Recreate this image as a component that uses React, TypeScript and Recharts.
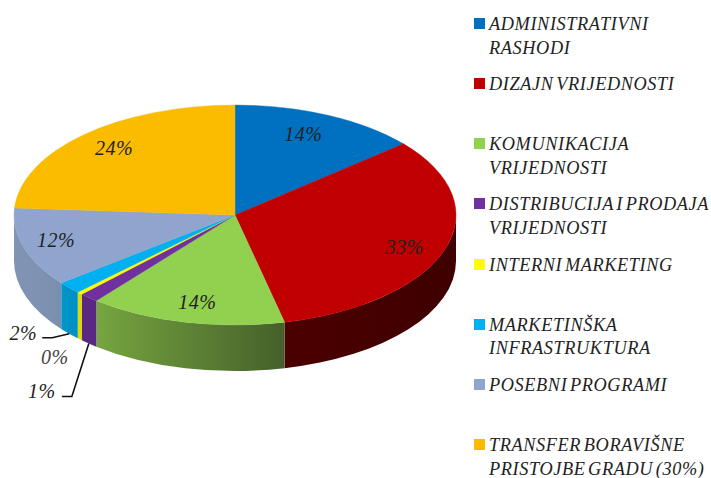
import React from 'react';
import { PieChart, Pie, Legend } from 'recharts';

const NAMES = [
  'ADMINISTRATIVNI RASHODI',
  'DIZAJN VRIJEDNOSTI',
  'KOMUNIKACIJA VRIJEDNOSTI',
  'DISTRIBUCIJA I PRODAJA VRIJEDNOSTI',
  'INTERNI MARKETING',
  'MARKETINŠKA INFRASTRUKTURA',
  'POSEBNI PROGRAMI',
  'TRANSFER BORAVIŠNE PRISTOJBE GRADU (30%)',
];
const VALUES = [13.8, 32.6, 14.4, 1.4, 0.4, 1.8, 11.6, 24];

const COLORS = ['#0070C0', '#C00000', '#92D050', '#7030A0', '#FFFF00', '#00B0F0', '#8FA5CE', '#FBBC00'];
// side wall gradient, left -> right
const WALL_LEFT = ['#005a9a', '#4c0000', '#76a540', '#5a2880', '#e0d800', '#0096cc', '#8294b4', '#c89600'];
const WALL_RIGHT = ['#005a9a', '#3e0000', '#45602a', '#5a2880', '#e0d800', '#008fc2', '#7a8fb0', '#c89600'];

const chartData = NAMES.map((name, i) => ({ name, value: VALUES[i], fill: COLORS[i] }));

const FONT = '"Liberation Serif", serif';
const SQUASH = 110 / 221; // tilt of the pie
const DEPTH = 46;

// label shift from its anchor on the pie; the small slices sit outside with a leader
const LABEL_SHIFT = [[-6, -1], [2, 4], [2, 1], [-47, 47], [-25, 18], [-46, -1], [-10, -1], [0, -3]];
const LEADERS: Record<number, number[][]> = {
  3: [[-17, 53], [-27, 53]],
  5: [[-17, 4], [-27, 4]],
};

const pt = (cx: number, cy: number, r: number, deg: number) => {
  const a = (deg * Math.PI) / 180;
  return { x: cx + r * Math.cos(a), y: cy - r * SQUASH * Math.sin(a) };
};

const Slice3D = (props: any) => {
  const { cx, cy, outerRadius: r, startAngle, endAngle, fill, name } = props;
  const idx = NAMES.indexOf(name);
  const ry = r * SQUASH;
  const s = pt(cx, cy, r, startAngle);
  const e = pt(cx, cy, r, endAngle);
  const large = Math.abs(startAngle - endAngle) > 180 ? 1 : 0;

  // the wall only shows on the front half
  const from = Math.min(startAngle, 0);
  const to = Math.max(endAngle, -180);
  let wall = null;
  if (from > to) {
    const a = pt(cx, cy, r, from);
    const b = pt(cx, cy, r, to);
    wall = (
      <>
        <defs>
          <linearGradient id={`wall${idx}`} x1="0" y1="0" x2="1" y2="0">
            <stop offset="0%" stopColor={WALL_LEFT[idx]} />
            <stop offset="100%" stopColor={WALL_RIGHT[idx]} />
          </linearGradient>
        </defs>
        <path
          d={`M${a.x},${a.y} A${r},${ry} 0 0 1 ${b.x},${b.y} L${b.x},${b.y + DEPTH} A${r},${ry} 0 0 0 ${a.x},${a.y + DEPTH} Z`}
          fill={`url(#wall${idx})`}
        />
      </>
    );
  }

  return (
    <g>
      {wall}
      <path
        d={`M${cx},${cy} L${s.x},${s.y} A${r},${ry} 0 ${large} 1 ${e.x},${e.y} Z`}
        fill={fill}
        stroke={fill}
        strokeWidth={0.4}
      />
    </g>
  );
};

const renderLabel = (props: any) => {
  const { cx, cy, midAngle, outerRadius: r, value, index } = props;
  const outside = index >= 3 && index <= 5;
  const anchor = pt(cx, cy, outside ? r : r * 0.8, midAngle);
  const ax = anchor.x;
  const ay = anchor.y + (outside ? DEPTH : 0);
  const [dx, dy] = LABEL_SHIFT[index];
  const leader = LEADERS[index];
  return (
    <g key={index}>
      {leader && (
        <polyline
          points={[[0, 0], ...leader].map(([x, y]) => `${ax + x},${ay + y}`).join(' ')}
          fill="none"
          stroke="#111"
          strokeWidth={1.6}
        />
      )}
      <text
        x={ax + dx}
        y={ay + dy}
        textAnchor="middle"
        dominantBaseline="central"
        fontFamily={FONT}
        fontStyle="italic"
        fontSize={20}
        letterSpacing={0.5}
        fill={index === 4 ? '#444' : '#222'}
      >
        {Math.round(value)}%
      </text>
    </g>
  );
};

const LegendBox = ({ payload }: any) => (
  <div style={{ position: 'relative', width: 711, height: 478 }}>
    {(payload || []).map((entry: any, i: number) => {
      const top = 13 + i * 60.15;
      return (
        <React.Fragment key={entry.value}>
          <div style={{ position: 'absolute', left: 474, top: top + 5, width: 11, height: 11, background: entry.color }} />
          <div
            style={{
              position: 'absolute',
              left: 489,
              top,
              width: 222,
              fontFamily: FONT,
              fontStyle: 'italic',
              fontSize: 18.3,
              lineHeight: '23.5px',
              letterSpacing: 0.6,
              wordSpacing: -2.5,
              color: '#222',
            }}
          >
            {entry.value}
          </div>
        </React.Fragment>
      );
    })}
  </div>
);

export default function App() {
  return (
    <div style={{ position: 'absolute', left: 0, top: 0, width: 711, height: 478, overflow: 'hidden', background: '#fff' }}>
      <PieChart width={711} height={478} margin={{ top: 0, right: 0, bottom: 0, left: 0 }}>
        <Pie
          data={chartData}
          dataKey="value"
          nameKey="name"
          cx={235}
          cy={215}
          outerRadius={221}
          startAngle={90}
          endAngle={-270}
          stroke="none"
          shape={Slice3D}
          label={renderLabel}
          labelLine={false}
          isAnimationActive={false}
        />
        <Legend
          layout="vertical"
          align="right"
          verticalAlign="top"
          itemSorter={null}
          content={LegendBox}
          wrapperStyle={{ left: 0, top: 0, width: 711, height: 478 }}
        />
      </PieChart>
    </div>
  );
}
